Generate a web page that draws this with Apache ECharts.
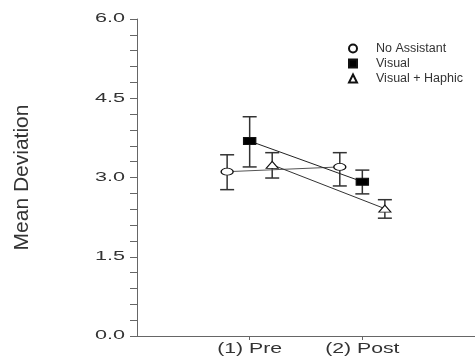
<!DOCTYPE html>
<html><head><meta charset="utf-8">
<script src="https://cdn.jsdelivr.net/npm/echarts@6/dist/echarts.min.js"></script>
<style>html,body{margin:0;padding:0;background:#fff}#chart{width:475px;height:360px}</style>
</head><body><div id="chart"></div>
<script>
const categories = ['(1) Pre', '(2) Post'];
const seriesNames = ['No Assistant', 'Visual', 'Visual + Haphic'];
const noAssistMean = [3.11, 3.20];
const noAssistHigh = [3.43, 3.47];
const noAssistLow = [2.77, 2.84];
const visualMean = [3.69, 2.92];
const visualHigh = [4.15, 3.14];
const visualLow = [3.20, 2.69];
const hapticMean = [3.24, 2.41];
const hapticHigh = [3.47, 2.58];
const hapticLow = [2.99, 2.23];
const yTicks = [0, 1.5, 3, 4.5, 6];
const yTickLabels = ['0.0', '1.5', '3.0', '4.5', '6.0'];

const FONT = 'Liberation Sans, Arial, sans-serif';
const ELLIPSE = 'path://M0,-1A1,1 0 1,1 0,1A1,1 0 1,1 0,-1Z';
const groups = [
  {name: seriesNames[0], mean: noAssistMean, low: noAssistLow, high: noAssistHigh, symbol: ELLIPSE, fill: '#fff', line: '#555'},
  {name: seriesNames[1], mean: visualMean, low: visualLow, high: visualHigh, symbol: 'rect', fill: '#000', line: '#222'},
  {name: seriesNames[2], mean: hapticMean, low: hapticLow, high: hapticHigh, symbol: 'triangle', fill: '#fff', line: '#333'}
];
const offsets = [-0.2, 0, 0.2];

function errorBar(params, api) {
  const x = api.value(0), lo = api.value(1), hi = api.value(2);
  const a = api.coord([x, lo]), b = api.coord([x, hi]);
  const w = 7;
  const st = {stroke: '#333', lineWidth: 1.5};
  return {type: 'group', children: [
    {type: 'line', shape: {x1: a[0], y1: a[1], x2: b[0], y2: b[1]}, style: st},
    {type: 'line', shape: {x1: a[0] - w, y1: a[1], x2: a[0] + w, y2: a[1]}, style: st},
    {type: 'line', shape: {x1: b[0] - w, y1: b[1], x2: b[0] + w, y2: b[1]}, style: st}
  ]};
}

const series = [];
groups.forEach((g, k) => {
  const xs = categories.map((c, i) => i + 1 + offsets[k]);
  series.push({type: 'custom', renderItem: errorBar, silent: true, z: 2,
    data: xs.map((x, i) => [x, g.low[i], g.high[i]])});
  series.push({type: 'line', name: g.name, z: 3, symbol: g.symbol, symbolSize: [12, 7],
    showSymbol: true, data: xs.map((x, i) => [x, g.mean[i]]),
    lineStyle: {color: g.line, width: 1},
    itemStyle: {color: g.fill, borderColor: '#111', borderWidth: 1.1}});
});

const chart = echarts.init(document.getElementById('chart'), null, {renderer: 'canvas'});
chart.setOption({
  animation: false,
  backgroundColor: '#fff',
  grid: {left: 137, top: 19, right: -4, bottom: 24},
  legend: {
    orient: 'vertical', left: 343, top: 37, itemWidth: 8, itemHeight: 8, itemGap: 2,
    textStyle: {fontSize: 12.5, fontFamily: FONT, color: '#333', padding: [0, 0, 0, 14]},
    data: [
      {name: seriesNames[0], icon: 'circle'},
      {name: seriesNames[1], icon: 'rect'},
      {name: seriesNames[2], icon: 'triangle'}
    ]
  },
  xAxis: {
    type: 'value', min: 0, max: 3, interval: 1,
    axisLine: {show: true, lineStyle: {color: '#666', width: 1}},
    axisTick: {show: true, customValues: [1, 2], length: 4, lineStyle: {color: '#666'}},
    axisLabel: {show: false},
    splitLine: {show: false}
  },
  yAxis: {
    type: 'value', min: 0, max: 6, interval: 1.5,
    name: 'Mean Deviation', nameLocation: 'middle', nameGap: 104,
    nameTextStyle: {fontSize: 21, fontFamily: FONT, color: '#333'},
    axisLine: {show: true, lineStyle: {color: '#666', width: 1}},
    axisTick: {show: true, length: 7, lineStyle: {color: '#666'}},
    minorTick: {show: true, splitNumber: 5, length: 7, lineStyle: {color: '#666'}},
    axisLabel: {show: false},
    splitLine: {show: false}
  },
  series: series
});

const labels = [];
yTicks.forEach((v, i) => {
  const p = chart.convertToPixel({gridIndex: 0}, [0, v]);
  labels.push({type: 'text', x: p[0] - 12, y: p[1], scaleX: 1.8, silent: true,
    style: {text: yTickLabels[i], fontSize: 12, fontFamily: FONT, fill: '#333', align: 'right', verticalAlign: 'middle'}});
});
categories.forEach((c, i) => {
  const p = chart.convertToPixel({gridIndex: 0}, [i + 1, 0]);
  labels.push({type: 'text', x: p[0], y: p[1] + 5, scaleX: 1.37, silent: true,
    style: {text: c, fontSize: 15.5, fontFamily: FONT, fill: '#333', align: 'center', verticalAlign: 'top'}});
});
chart.setOption({graphic: labels});
</script></body></html>
